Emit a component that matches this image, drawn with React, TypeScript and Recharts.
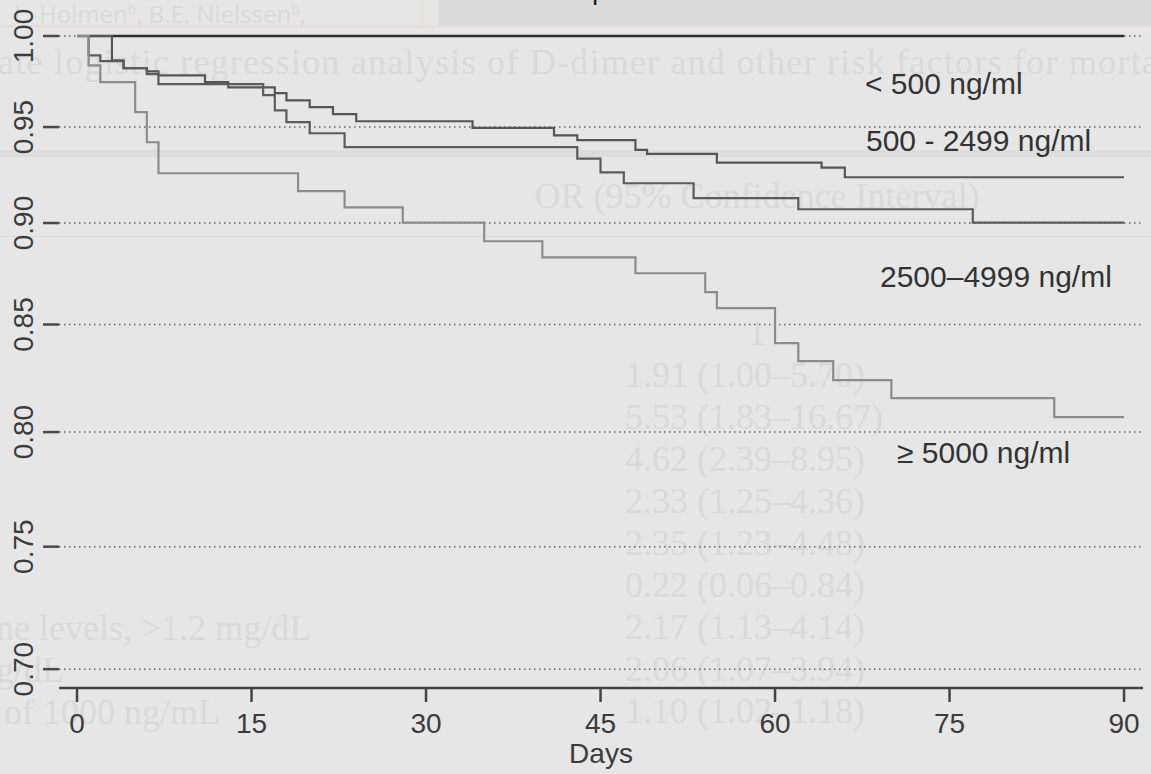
import React from "react";
import { LineChart, Line, XAxis, YAxis, CartesianGrid } from "recharts";

const W = 1151;
const H = 774;

// Kaplan-Meier curves by D-dimer group (days, survival)
const groupLabels = ["< 500 ng/ml", "500 - 2499 ng/ml", "2500–4999 ng/ml", "≥ 5000 ng/ml"];

const lowDays = [0, 90];
const lowSurv = [1, 1];

const midDays = [0, 3, 4, 6, 7, 11, 13, 17, 18, 20, 22, 24, 34, 41, 43, 48, 49, 55, 64, 66, 90];
const midSurv = [
  1, 0.9864, 0.982, 0.9803, 0.9781, 0.9743, 0.9715, 0.9683, 0.9644, 0.9607, 0.9569, 0.9531,
  0.9496, 0.9456, 0.943, 0.9379, 0.9358, 0.9311, 0.9285, 0.9235, 0.9235,
];

const highDays = [0, 1, 2, 4, 6, 7, 16, 17, 18, 20, 23, 43, 45, 47, 53, 62, 77, 90];
const highSurv = [
  1, 0.9892, 0.9859, 0.982, 0.9787, 0.9732, 0.9672, 0.959, 0.9526, 0.9467, 0.9393, 0.9332,
  0.9261, 0.9204, 0.9127, 0.907, 0.9002, 0.9002,
];

const topDays = [0, 1, 2, 5, 6, 7, 19, 23, 28, 35, 40, 48, 54, 55, 60, 62, 65, 70, 84, 90];
const topSurv = [
  1, 0.9836, 0.9743, 0.958, 0.9419, 0.9256, 0.9163, 0.908, 0.9002, 0.8908, 0.8828, 0.8749,
  0.8656, 0.8579, 0.8411, 0.8326, 0.8238, 0.8155, 0.8068, 0.8068,
];

const dayTicks = [0, 15, 30, 45, 60, 75, 90];
const survTicks = [0.7, 0.75, 0.8, 0.85, 0.9, 0.95, 1];

// faint text bleeding through from the page behind the figure
const ghostRows = [
  "1",
  "1.91 (1.00–5.70)",
  "5.53 (1.83–16.67)",
  "4.62 (2.39–8.95)",
  "2.33 (1.25–4.36)",
  "2.35 (1.23–4.48)",
  "0.22 (0.06–0.84)",
  "2.17 (1.13–4.14)",
  "2.06 (1.07–3.94)",
  "1.10 (1.02–1.18)",
];
const ghostLeft = ["ne levels, >1.2 mg/dL", "g/dL", "of 1000 ng/mL"];

const toPoints = (days: number[], surv: number[]) => days.map((t, i) => ({ t, s: surv[i] }));

const SANS = "'Liberation Sans', Arial, Helvetica, sans-serif";
const SERIF = "'Liberation Serif', 'Times New Roman', serif";
const GHOST = "#d9d9d9";

const YTick = (props: any) => {
  const { x, y, payload } = props;
  return (
    <text
      x={x}
      y={y}
      transform={`rotate(-90 ${x} ${y})`}
      textAnchor="middle"
      fontSize={28}
      fontFamily={SANS}
      fill="#3c3c3c"
    >
      {Number(payload.value).toFixed(2)}
    </text>
  );
};

const XTick = (props: any) => {
  const { x, y, payload } = props;
  return (
    <text x={x} y={y} dy={27} textAnchor="middle" fontSize={28} fontFamily={SANS} fill="#3c3c3c">
      {payload.value}
    </text>
  );
};

export default function App() {
  return (
    <div
      style={{
        position: "absolute",
        left: 0,
        top: 0,
        width: W,
        height: H,
        background: "#e6e6e6",
        overflow: "hidden",
      }}
    >
      <svg width={W} height={H} style={{ position: "absolute", left: 0, top: 0 }}>
        <rect x={439} y={0} width={W - 439} height={25} fill="#dadada" />
        <rect x={0} y={25} width={W} height={3} fill="#ecdddd" />
        <rect x={421} y={0} width={2} height={26} fill="#ecdddd" />
        <rect x={0} y={150} width={W} height={7} fill="#dcdcdc" />
        <rect x={0} y={236} width={W} height={1} fill="#dadada" />
        <text x={592} y={-1} fontSize={28} fontFamily={SANS} fill="#222">
          p
        </text>
        <text x={14} y={23} fontSize={24} fontFamily="'Open Sans', sans-serif" fill={GHOST}>
          L. Holmen
          <tspan fontSize={14} dy={-8}>b</tspan>
          <tspan dy={8}>, B.E. Nielssen</tspan>
          <tspan fontSize={14} dy={-8}>b</tspan>
          <tspan dy={8}>,</tspan>
        </text>
        <text x={-2} y={74} fontSize={36} fontFamily={SERIF} fill={GHOST} textLength={1160}>
          ate logistic regression analysis of D-dimer and other risk factors for morta
        </text>
        <text x={757} y={208} fontSize={36} fontFamily={SERIF} fill={GHOST} textAnchor="middle">
          OR (95% Confidence Interval)
        </text>
        {ghostRows.map((r, i) => (
          <text
            key={r}
            x={i === 0 ? 757 : 625}
            y={345 + i * 42}
            fontSize={36}
            fontFamily={SERIF}
            fill={GHOST}
            textAnchor={i === 0 ? "middle" : "start"}
          >
            {r}
          </text>
        ))}
        {ghostLeft.map((r, i) => (
          <text key={r} x={i === 2 ? 4 : -4} y={640 + i * 42} fontSize={36} fontFamily={SERIF} fill={GHOST}>
            {r}
          </text>
        ))}
      </svg>

      <div style={{ position: "absolute", left: 0, top: 0 }}>
        <LineChart width={W} height={H} margin={{ top: 36, right: 8, bottom: 0, left: 0 }}>
          <CartesianGrid
            vertical={false}
            stroke="#666"
            strokeWidth={1.5}
            strokeDasharray="1.5 3.5"
          />
          <XAxis
            type="number"
            dataKey="t"
            domain={[-1.55, 91.63]}
            ticks={dayTicks}
            interval={0}
            height={86}
            tickSize={14}
            tickMargin={4}
            tick={<XTick />}
            axisLine={{ stroke: "#444", strokeWidth: 2.5 }}
            tickLine={{ stroke: "#444", strokeWidth: 2.5 }}
            label={{
              value: "Days",
              position: "insideBottom",
              offset: 11,
              fontSize: 28,
              fontFamily: SANS,
              fill: "#3c3c3c",
            }}
          />
          <YAxis
            type="number"
            dataKey="s"
            scale="log"
            domain={[0.6926, 1]}
            ticks={survTicks}
            interval={0}
            width={59}
            tickSize={16}
            tickMargin={10}
            tick={<YTick />}
            axisLine={false}
            tickLine={{ stroke: "#4a4a4a", strokeWidth: 2.5 }}
          />
          <Line
            data={toPoints(lowDays, lowSurv)}
            dataKey="s"
            name={groupLabels[0]}
            type="stepAfter"
            stroke="#2e2e2e"
            strokeWidth={2.5}
            dot={false}
            isAnimationActive={false}
          />
          <Line
            data={toPoints(midDays, midSurv)}
            dataKey="s"
            name={groupLabels[1]}
            type="stepAfter"
            stroke="#565656"
            strokeWidth={2.2}
            dot={false}
            isAnimationActive={false}
          />
          <Line
            data={toPoints(highDays, highSurv)}
            dataKey="s"
            name={groupLabels[2]}
            type="stepAfter"
            stroke="#5c5c5c"
            strokeWidth={2.2}
            dot={false}
            isAnimationActive={false}
          />
          <Line
            data={toPoints(topDays, topSurv)}
            dataKey="s"
            name={groupLabels[3]}
            type="stepAfter"
            stroke="#8c8c8c"
            strokeWidth={2.2}
            dot={false}
            isAnimationActive={false}
          />
        </LineChart>
      </div>

      <svg
        width={W}
        height={H}
        style={{ position: "absolute", left: 0, top: 0, pointerEvents: "none" }}
        fontFamily={SANS}
        fontSize={30}
        fill="#333"
      >
        <text x={865} y={94}>{groupLabels[0]}</text>
        <text x={866} y={151}>{groupLabels[1]}</text>
        <text x={880} y={287}>{groupLabels[2]}</text>
        <text x={897} y={463}>{groupLabels[3]}</text>
      </svg>
    </div>
  );
}
